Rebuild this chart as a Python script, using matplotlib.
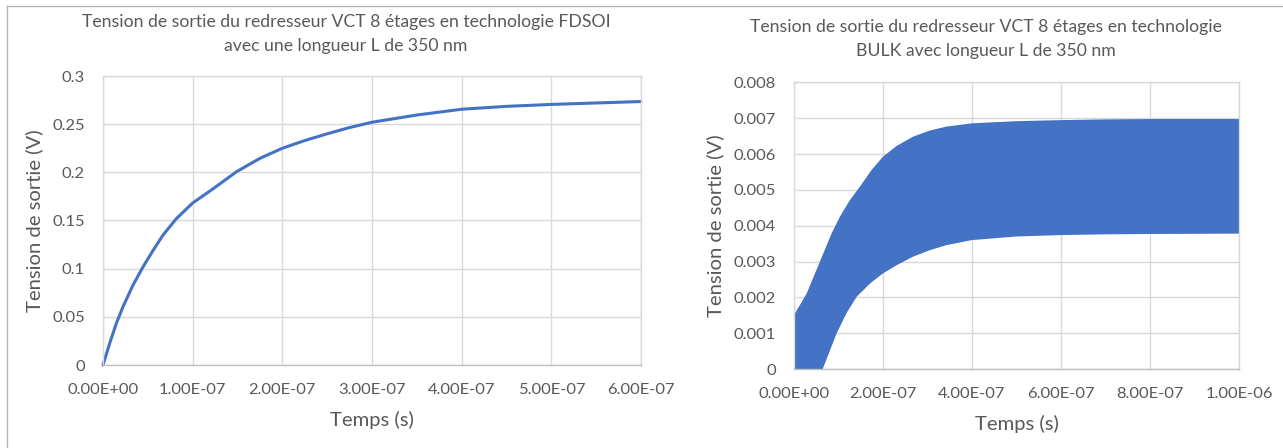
import numpy as np
import matplotlib
matplotlib.use("Agg")
import matplotlib.pyplot as plt
from matplotlib.ticker import FuncFormatter, MultipleLocator
from matplotlib.lines import Line2D

plt.rcParams['font.family'] = ['Lato', 'DejaVu Sans']

# ---------------- data ----------------
# Left: FDSOI output voltage (time in 1e-7 s, voltage in V)
fdsoi_t = [0, 0.0745, 0.149, 0.2235, 0.335, 0.447, 0.559, 0.670, 0.819, 0.998,
           1.229, 1.49, 1.75, 2.0, 2.25, 2.5, 2.75, 3.0, 3.5, 4.0, 4.5, 5.0,
           5.5, 6.0]
fdsoi_v = [0, 0.0225, 0.0433, 0.0606, 0.083, 0.102, 0.119, 0.135, 0.152, 0.168,
           0.183, 0.2007, 0.2145, 0.225, 0.233, 0.240, 0.2465, 0.252, 0.2595,
           0.2655, 0.2685, 0.2705, 0.272, 0.2735]

# Right: BULK output voltage envelope (time in 1e-7 s, voltage in mV)
bulk_upper_t = [0, 0.135, 0.285, 0.472, 0.66, 0.846, 1.03, 1.258, 1.48, 1.745,
                2.0, 2.307, 2.68, 3.056, 3.43, 4.0, 5.0, 6.0, 7.0, 8.0, 10.0]
bulk_upper_mv = [1.51, 1.79, 2.11, 2.67, 3.23, 3.79, 4.25, 4.72, 5.09, 5.56,
                 5.93, 6.23, 6.49, 6.66, 6.77, 6.86, 6.92, 6.95, 6.97, 6.98, 6.98]
bulk_lower_t = [0, 0.645, 0.96, 1.18, 1.41, 1.71, 2.0, 2.31, 2.68, 3.06, 3.43,
                4.0, 5.0, 6.0, 7.0, 8.0, 10.0]
bulk_lower_mv = [0, 0, 1.0, 1.56, 2.02, 2.39, 2.67, 2.90, 3.14, 3.32, 3.46,
                 3.60, 3.70, 3.74, 3.76, 3.77, 3.78]

title_left = ["Tension de sortie du redresseur VCT 8 étages en technologie FDSOI",
              "avec une longueur L de 350 nm"]
title_right = ["Tension de sortie du redresseur VCT 8 étages en technologie",
               "BULK avec longueur L de 350 nm"]
xlabel = "Temps (s)"
ylabel = "Tension de sortie (V)"

# ---------------- figure ----------------
W, H = 1283, 448
fig = plt.figure(figsize=(W / 100, H / 100), dpi=100)
TXT = '#595959'
BLUE = '#4472C4'
GRID = '#D9D9D9'


def axes_px(l, t, r, b):
    return fig.add_axes([l / W, 1 - b / H, (r - l) / W, (b - t) / H])


def style(ax):
    ax.grid(True, color=GRID, linewidth=1.0)
    ax.set_axisbelow(True)
    for s in ['left', 'top', 'right']:
        ax.spines[s].set_color(GRID)
        ax.spines[s].set_linewidth(1.0)
    ax.spines['bottom'].set_color('#BFBFBF')
    ax.spines['bottom'].set_linewidth(1.0)
    ax.tick_params(length=0, labelsize=12, labelcolor=TXT)
    ax.tick_params(axis='y', pad=13)
    ax.tick_params(axis='x', pad=13)
    ax.xaxis.set_major_formatter(FuncFormatter(lambda v, p: f"{v:.2E}"))
    ax.yaxis.set_major_formatter(FuncFormatter(lambda v, p: f"{round(v, 6):g}"))


# Left axes
ax1 = axes_px(103, 76, 641, 365)
ax1.plot(np.array(fdsoi_t) * 1e-7, fdsoi_v, color=BLUE, linewidth=2.2,
         solid_joinstyle='round', solid_capstyle='round', clip_on=False)
ax1.set_xlim(0, 6e-7)
ax1.set_ylim(0, 0.3)
ax1.xaxis.set_major_locator(MultipleLocator(1e-7))
ax1.yaxis.set_major_locator(MultipleLocator(0.05))
style(ax1)

# Right axes
ax2 = axes_px(794, 82.5, 1239, 369)
xs = np.concatenate([np.array(bulk_upper_t), np.array(bulk_lower_t)[::-1]]) * 1e-7
ys = np.concatenate([np.array(bulk_upper_mv), np.array(bulk_lower_mv)[::-1]]) * 1e-3
ax2.fill(xs, ys, color=BLUE, linewidth=0)
ax2.set_xlim(0, 1e-6)
ax2.set_ylim(0, 0.008)
ax2.xaxis.set_major_locator(MultipleLocator(2e-7))
ax2.yaxis.set_major_locator(MultipleLocator(0.001))
style(ax2)

xlabs, ylabs = [], []
for ax, ylx, xly in [(ax1, -0.128, -0.19), (ax2, -0.178, -0.192)]:
    ax.set_xlabel(xlabel, fontsize=13, color=TXT)
    ax.set_ylabel(ylabel, fontsize=13, color=TXT)
    ax.yaxis.set_label_coords(ylx, 0.5)
    ax.yaxis.label.set_verticalalignment('center')
    ax.xaxis.set_label_coords(0.5, xly)
    ax.xaxis.label.set_verticalalignment('center')
    xlabs.append(ax.xaxis.label)
    ylabs.append(ax.yaxis.label)

# Titles (two lines each)
titles = []
for lines, cx, bases in [(title_left, 346, (27, 51)), (title_right, 986, (32, 56))]:
    for line, by in zip(lines, bases):
        titles.append(fig.text(cx / W, 1 - by / H, line, ha='center', va='baseline',
                               fontsize=12, color=TXT))

# fit font sizes to measured reference text extents
fig.canvas.draw()
r = fig.canvas.get_renderer()
w = titles[0].get_window_extent(r).width
fs_title = 12 * 527 / w
for t in titles:
    t.set_fontsize(fs_title)
h_y = ylabs[0].get_window_extent(r).height
w_x = xlabs[0].get_window_extent(r).width
fs_lab = 13 * 0.5 * (184 / h_y + 83 / w_x)
for t in xlabs + ylabs:
    t.set_fontsize(fs_lab)
lbl = [t for t in ax1.get_xticklabels() if t.get_text() == "6.00E-07"][0]
fs_tick = 12 * 67 / lbl.get_window_extent(r).width
for ax in (ax1, ax2):
    ax.tick_params(labelsize=fs_tick)

# outer frame (left and top edges)
fig.add_artist(Line2D([6.5 / W, 6.5 / W], [0, 1 - 6.5 / H], transform=fig.transFigure,
                      color='#B4B4B4', linewidth=1.0))
fig.add_artist(Line2D([6.5 / W, 1], [1 - 6.5 / H, 1 - 6.5 / H], transform=fig.transFigure,
                      color='#B4B4B4', linewidth=1.0))

fig.savefig("out.png", dpi=100)
